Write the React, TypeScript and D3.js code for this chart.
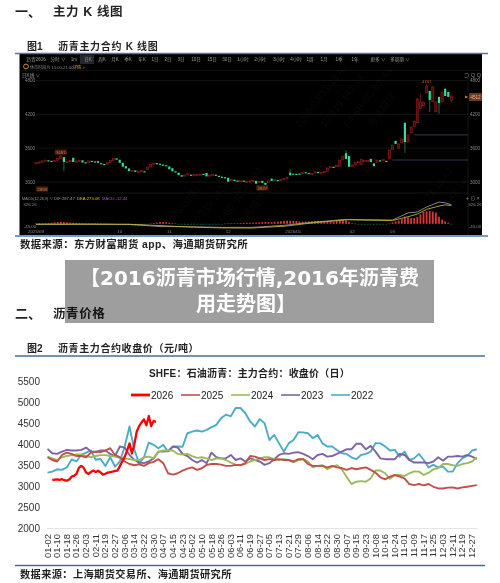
import * as d3 from 'd3';

const FONT = "'Liberation Sans','Noto Sans CJK SC',sans-serif";

// 图1 K 线
const candleOpen = [3320,3340,3350,3370,3385,3375,3365,3385,3420,3440,3350,3360,3430,3350,3370,3385,3350,3345,3375,3365,3370,3335,3320,3310,3345,3385,3420,3395,3340,3280,3240,3190,3205,3190,3190,3190,3220,3265,3320,3335,3325,3310,3300,3275,3245,3190,3165,3120,3110,3130,3130,3125,3130,3135,3145,3160,3115,3125,3130,3110,3095,3085,3075,3025,3040,3025,3020,3025,3005,3015,3020,3020,2990,3020,2985,2985,3060,3030,3035,3030,3045,3070,3165,3150,3145,3150,3150,3175,3160,3150,3165,3180,3150,3165,3185,3250,3270,3270,3280,3390,3510,3460,3270,3300,3340,3310,3370,3370,3410,3330,3350,3385,3385,3375,3410,3570,3730,3600,3700,4050,3710,3870,3980,4050,4300,4350,4580,4615,4420,4243,4510,4420,4651,4597,4450];
const candleClose = [3345,3355,3375,3390,3380,3370,3385,3420,3460,3355,3365,3380,3355,3375,3385,3345,3335,3375,3365,3360,3340,3320,3305,3345,3385,3415,3395,3340,3270,3240,3195,3205,3180,3195,3200,3180,3265,3310,3335,3325,3310,3300,3285,3225,3190,3170,3120,3095,3125,3145,3125,3130,3135,3140,3135,3100,3125,3135,3115,3100,3085,3070,3005,3040,3030,3020,3025,3010,3015,3020,3025,2970,3010,2985,2950,3020,3020,3040,3030,3040,3060,3085,3120,3140,3140,3140,3165,3160,3150,3155,3180,3170,3165,3185,3250,3270,3260,3300,3390,3460,3410,3270,3305,3350,3360,3405,3380,3385,3355,3280,3390,3380,3395,3365,3570,3655,3675,3675,3765,3710,3835,3975,4080,4470,4420,4420,4700,4455,4686,4420,4402,4597,4526,4509,4526];
const wickIdx = [8,9,82,100,119,123,124,126,127,128,130,131,132,134];
const wickHigh = [3481,3440,3230,3560,4050,4490,4560,4747,4615,4700,4510,4600,4665,4540];
const wickLow = [3420,3195,3120,3400,3515,4050,4300,4580,4243,4420,4207,4420,4526,4420];
const priceTicks = [4800,4200,3600,3000];
const extremeLabels = ['3481','2858','2827','4747'];
const extremeIdx = [8,2,73,126];
const extremePrice = [3530,2875,2895,4790];
const levelPrice = [3835,3390];
const levelStart = [122,115];
const dateTickIdx = [0,27,43,62,83,102,115];
const dateTickLabels = ['2025/09','10','11','12','2026/01','02','03'];

const macdHist = [5,8,10,12,14,18,25,30,35,30,25,20,18,16,14,12,10,10,8,8,6,6,4,4,4,2,-2,-4,-8,-12,-18,-25,-28,-25,-20,-12,-5,6,14,22,30,28,26,20,12,6,-8,-10,-12,-12,-10,-10,-8,-8,-6,-6,-5,-4,-4,-4,-2,4,6,8,10,10,14,16,18,18,20,22,25,30,35,32,30,34,38,45,50,55,52,50,48,40,38,40,42,45,50,52,50,48,46,42,38,60,70,68,60,30,10,4,-5,-8,-10,-10,-10,-12,-10,-8,-8,-6,5,25,40,55,80,120,110,95,95,115,160,200,210,215,205,190,120,70,40,20,-8];
const macdIdx = [0,15,30,40,50,60,70,80,90,100,115,120,123,126,130,132,134];
const difValues = [-8,-5,-10,-45,-50,-60,-60,-25,30,75,64,185,200,284,368,355,320];
const deaValues = [-8,-8,-8,-30,-55,-70,-70,-40,20,68,55,120,165,245,300,320,310];
const macdTicks = [326.26,-45];
const macdTickLabels = ['326.26','-45.00'];

// 图2 收盘价
const dayLabels = ['01-02','01-10','01-18','01-26','02-03','02-11','02-19','02-27','03-06','03-14','03-22','03-30','04-07','04-15','04-23','05-02','05-10','05-18','05-26','06-03','06-11','06-19','06-27','07-05','07-13','07-21','07-29','08-06','08-14','08-22','08-30','09-07','09-15','09-23','10-08','10-16','10-24','11-01','11-09','11-17','11-25','12-03','12-11','12-19','12-27'];
const closeTicks = [2000,2500,3000,3500,4000,4500,5000,5500];
const years = ['2026','2025','2024','2023','2022'];
const yearColors = ['#ff0000','#c0504d','#9bbb59','#8064a2','#4bacc6'];
const close2026 = [3150,3160,3165,3155,3170,3145,3135,3165,3230,3250,3295,3440,3485,3440,3330,3295,3340,3375,3340,3370,3330,3280,3300,3325,3340,3350,3365,3375,3480,3590,3700,3850,4020,3780,4000,4300,4430,4520,4590,4450,4670,4430,4550,4530];
const close2025 = [3690,3625,3590,3745,3800,3770,3720,3720,3690,3800,3825,3810,3850,3905,3745,3690,3590,3530,3500,3525,3485,3550,3580,3645,3550,3310,3280,3310,3375,3420,3450,3390,3430,3510,3530,3530,3515,3485,3485,3510,3500,3550,3720,3705,3665,3625,3645,3625,3645,3625,3625,3590,3645,3645,3530,3485,3485,3485,3450,3485,3450,3435,3390,3435,3405,3430,3450,3390,3325,3215,3165,3230,3270,3230,3190,3055,3030,3055,3025,3055,2990,2950,2950,2970,2975,2950,2975,2990,3010,3030];
const close2024 = [3705,3665,3625,3690,3720,3740,3755,3755,3720,3690,3720,3740,3740,3720,3705,3680,3660,3645,3625,3625,3690,3705,3665,3825,3850,3850,3850,3770,3755,3770,3720,3675,3690,3665,3625,3665,3660,3625,3565,3515,3510,3530,3590,3625,3660,3690,3690,3645,3625,3645,3625,3570,3625,3645,3590,3450,3485,3500,3405,3470,3500,3405,3230,3055,3110,3125,3110,3190,3375,3375,3310,3180,3270,3270,3245,3310,3355,3350,3270,3325,3405,3435,3530,3530,3500,3485,3530,3550,3590,3690];
const close2023 = [3890,3785,3770,3825,3865,3850,3850,3865,3920,3825,3820,3850,3850,3770,3720,3945,3920,3745,3625,3565,3550,3590,3665,3825,3825,3840,3945,3920,3770,3720,3625,3565,3625,3550,3800,3690,3665,3665,3745,3625,3665,3590,3665,3625,3590,3510,3550,3645,3745,3785,3770,3800,3810,3770,3720,3645,3745,3770,3705,3720,3770,3825,3880,3880,4010,4010,3880,3960,3825,3665,3645,3645,3645,3770,3745,3625,3565,3570,3565,3550,3590,3690,3610,3705,3705,3720,3705,3745,3705,3645];
const close2022 = [3325,3350,3405,3390,3450,3640,3590,3745,3800,3850,3630,3650,3485,3690,3470,3590,3945,4420,3865,3550,3690,4040,3985,3905,3985,3825,3945,3945,3940,4260,4300,4325,4300,4340,4405,4460,4620,4700,4660,4860,4860,4740,4540,4420,4595,4500,4100,4220,4020,3825,4020,4100,4285,4280,4260,4145,4220,4020,3945,3945,3865,3785,3770,3690,3645,3745,3770,3825,4025,4020,3945,3850,3865,3705,3825,3625,3665,3770,3625,3450,3510,3450,3470,3350,3350,3550,3665,3720,3850,3880];

const watermarkText = ['2026/03/31 18:42','10.219.142.14','F4-6B-8C-82-A4','海通期货'];
const watermarkX = [300,325,348,372,170,195,218,242,405,428];
const watermarkY = [128,128,128,128,228,228,228,228,232,232];

const toolbarLabels = ['沥青2606','分时 ∨','1m','日K','周K','月K','季K','年K','1日','2日','3日','10日','15日','30日','1小时','2小时','3小时','4小时','1周','1月','1季','1年','更多 ∨','多周期 ∨'];
const toolbarX = [36,58,74,88,102,115,128,142,155,168,181,196,212,227,243,260,279,296,310,324,339,355,378,400];

const indexX = d3.scaleLinear().domain([0, 134]).range([36, 451.4]);
const priceY = d3.scaleLinear().domain([3000, 4800]).range([182, 80.5]);
const macdY = d3.scaleLinear().domain([-45, 326.26]).range([226.5, 204.5]);
const sampleX = d3.scaleLinear().domain([0, 88]).range([47.5, 472]);
const closeY = d3.scaleLinear().domain([2000, 5500]).range([528.5, 381]);

const closeLine = d3.line<number>().x((_, i) => sampleX(i)).y(d => closeY(d));
const line2026 = d3.line<number>().x((_, i) => sampleX(1 + i * 0.5)).y(d => closeY(d));
const difLine = d3.line<number>().x((_, i) => indexX(macdIdx[i])).y(d => macdY(d));
const series = [close2022, close2023, close2024, close2025];
const seriesColor = [yearColors[4], yearColors[3], yearColors[2], yearColors[1]];

export default function App() {
  return (
    <svg width={500} height={583} style={{ position: 'absolute', left: 0, top: 0, background: '#fff' }} fontFamily={FONT}>
      <g fill="#222" fontWeight={700} style={{ filter: 'blur(0.3px)' }}>
        <text x={15} y={16} fontSize={13}>一、</text>
        <text x={53} y={16} fontSize={12.5} letterSpacing={0.6}>主力 K 线图</text>
        <text x={27} y={50} fontSize={10}>图1</text>
        <text x={58} y={50} fontSize={10} letterSpacing={0.7}>沥青主力合约 K 线图</text>
      </g>

      <g style={{ filter: 'blur(0.35px)' }}>
        <rect x={19.5} y={54} width={462.5} height={181} fill="#000" />
        <line x1={15} x2={488} y1={53.5} y2={53.5} stroke="#4a78b0" strokeWidth={1.5} />
        <line x1={15} x2={488} y1={236} y2={236} stroke="#4a78b0" strokeWidth={1.5} />
        <rect x={80} y={55} width={14} height={9} fill="#26262e" />
        {toolbarLabels.map((t, i) => (
          <text key={t} x={toolbarX[i]} y={61} fontSize={4.6} fill="#999" textAnchor="middle">{t}</text>
        ))}
        <circle cx={26} cy={66.5} r={2.4} fill="none" stroke="#c89020" />
        <text x={30} y={68.5} fontSize={4.1} fill="#888">休市时段为 15:00-21:00</text>
        <text x={73} y={68.5} fontSize={4.1} fill="#d8a020">详情 &gt;</text>
        <text x={22} y={76.5} fontSize={4.6} fill="#999">日K线 ∨</text>
        <text x={464} y={76.5} fontSize={5.5} fill="#888">⊃ Q Q</text>
        <line x1={20} x2={482} y1={70.5} y2={70.5} stroke="#181818" strokeWidth={0.6} />

        {priceTicks.map(p => (
          <g key={p}>
            <line x1={36} x2={468} y1={priceY(p)} y2={priceY(p)} stroke="#1a1a1a" strokeWidth={0.7} />
            <text x={30} y={priceY(p) + 1.8} fontSize={4.6} fill="#888" textAnchor="middle">{p}</text>
            <text x={475} y={priceY(p) + 1.8} fontSize={4.6} fill="#888" textAnchor="middle">{p}</text>
          </g>
        ))}
        <line x1={468} x2={468} y1={78} y2={235} stroke="#1a1a1a" strokeWidth={0.7} />
        {levelPrice.map((p, i) => (
          <line key={p} x1={indexX(levelStart[i])} x2={468} y1={priceY(p)} y2={priceY(p)} stroke="#3c3c5a" strokeWidth={0.9} />
        ))}

        {wickIdx.map((idx, i) => (
          <line key={idx} x1={indexX(idx)} x2={indexX(idx)} y1={priceY(wickHigh[i])} y2={priceY(wickLow[i])}
            stroke={candleClose[idx] >= candleOpen[idx] ? '#9a1c1c' : '#1f9a68'} strokeWidth={0.7} />
        ))}
        {candleOpen.map((o, i) => {
          const c = candleClose[i];
          const up = c >= o;
          return (
            <rect key={i} x={indexX(i) - 1.1} width={2.2}
              y={priceY(Math.max(o, c))} height={Math.max(1.2, Math.abs(priceY(o) - priceY(c)))}
              fill={up ? '#4a0c0c' : '#35dd98'} stroke={up ? '#a81e1e' : 'none'} strokeWidth={0.5} />
          );
        })}
        {extremeLabels.map((t, i) => (
          <g key={t}>
            <rect x={indexX(extremeIdx[i]) - 6} y={priceY(extremePrice[i]) - 2.5} width={12} height={5} fill={i === 3 ? '#000' : '#4a2410'} />
            <text x={indexX(extremeIdx[i])} y={priceY(extremePrice[i]) + 1.7} fontSize={4.4} fill="#c86a38" textAnchor="middle">{t}</text>
          </g>
        ))}
        <rect x={469} y={93} width={13} height={8} rx={1} fill="#6a3a24" />
        <text x={475.5} y={99} fontSize={4.6} fill="#e8b090" textAnchor="middle">4512</text>
        <path d="M465 95.5L468 97L465 98.5Z" fill="#e8702a" />

        <line x1={20} x2={468} y1={193} y2={193} stroke="#1c1c1c" strokeWidth={0.7} />
        <text x={22} y={200} fontSize={3.8} fill="#999">MACD(12,26,9) ∨</text>
        <text x={54} y={200} fontSize={4.2} fill="#999">DIF:287.47</text>
        <text x={77} y={200} fontSize={4.2} fill="#c8c020">DEA:273.08</text>
        <text x={102} y={200} fontSize={4.2} fill="#b048c0">MACD:-12.44</text>
        <text x={466} y={200} fontSize={5} fill="#999">+ ⊙ ×</text>
        {macdTicks.map((v, i) => (
          <g key={v}>
            <text x={30} y={macdY(v) + 1.7} fontSize={4.4} fill="#888" textAnchor="middle">{macdTickLabels[i]}</text>
            <text x={475} y={macdY(v) + 1.7} fontSize={4.4} fill="#888" textAnchor="middle">{macdTickLabels[i]}</text>
          </g>
        ))}
        {macdHist.map((v, i) => (
          <rect key={i} x={indexX(i) - 0.9} width={1.8}
            y={v >= 0 ? macdY(v) : macdY(0)} height={Math.max(0.6, Math.abs(macdY(v) - macdY(0)))}
            fill={v >= 0 ? '#d83636' : '#1f8a5c'} />
        ))}
        <path d={difLine(difValues) ?? ''} fill="none" stroke="#bdbdbd" strokeWidth={0.7} />
        <path d={difLine(deaValues) ?? ''} fill="none" stroke="#b8b030" strokeWidth={0.9} />
        {dateTickIdx.map((idx, i) => (
          <text key={idx} x={indexX(idx)} y={233} fontSize={4.4} fill="#888" textAnchor="middle">{dateTickLabels[i]}</text>
        ))}
        {watermarkX.map((x, i) => (
          <text key={i} x={x} y={watermarkY[i]} fontSize={10} fill="#999" opacity={0.05}
            transform={`rotate(-52 ${x} ${watermarkY[i]})`}>{watermarkText[i % 4]}</text>
        ))}
      </g>

      <g style={{ filter: 'blur(0.3px)' }} fill="#222" fontWeight={700}>
        <text x={20} y={248} fontSize={10.4} letterSpacing={0.4}>数据来源：东方财富期货 app、海通期货研究所</text>
        <text x={15} y={318} fontSize={13}>二、</text>
        <text x={53} y={318} fontSize={12.5} letterSpacing={0.6}>沥青价格</text>
        <text x={27} y={352} fontSize={10}>图2</text>
        <text x={58} y={352} fontSize={10} letterSpacing={0.6}>沥青主力合约收盘价（元/吨）</text>
        <text x={149} y={377} fontSize={10} letterSpacing={0.2}>SHFE：石油沥青：主力合约：收盘价（日）</text>
        <text x={20} y={578} fontSize={10.2} letterSpacing={0.4}>数据来源：上海期货交易所、海通期货研究所</text>
      </g>
      <line x1={15} x2={485} y1={356} y2={356} stroke="#3f6f9f" strokeWidth={1.4} />

      <g style={{ filter: 'blur(0.25px)' }}>
        {years.map((y, i) => (
          <g key={y} transform={`translate(${131 + i * 50},395)`}>
            <line x1={0} x2={19} stroke={yearColors[i]} strokeWidth={i === 0 ? 2.8 : 1.6} />
            <text x={20} y={3.8} fontSize={10} fill="#222">{y}</text>
          </g>
        ))}
        {closeTicks.map(t => (
          <text key={t} x={40} y={closeY(t) + 3.6} fontSize={10} fill="#333" textAnchor="end">{t}</text>
        ))}
        <line x1={47} x2={477} y1={closeY(2000)} y2={closeY(2000)} stroke="#e4e4e4" strokeWidth={1} />
        {dayLabels.map((d, i) => (
          <text key={d} transform={`translate(${sampleX(i * 2) + 3},534) rotate(-90)`} fontSize={9.4} fill="#333" textAnchor="end">{d}</text>
        ))}
        {series.map((s, i) => (
          <path key={i} d={closeLine(s) ?? ''} fill="none" stroke={seriesColor[i]} strokeWidth={1.9} strokeLinejoin="round" />
        ))}
        <path d={line2026(close2026) ?? ''} fill="none" stroke={yearColors[0]} strokeWidth={2.3} strokeLinejoin="round" />
      </g>

      <line x1={15} x2={485} y1={565.5} y2={565.5} stroke="#3f6f9f" strokeWidth={1.6} />

      <rect x={65} y={260} width={369} height={63} fill="#000" fillOpacity={0.38} />
      <text x={249.5} y={285} fontSize={20} fontWeight={700} fill="#fff" textAnchor="middle" fontFamily="'DejaVu Sans','Noto Sans CJK SC',sans-serif">【2016沥青市场行情,2016年沥青费</text>
      <text x={246} y={310.5} fontSize={20} fontWeight={700} fill="#fff" textAnchor="middle" fontFamily="'DejaVu Sans','Noto Sans CJK SC',sans-serif">用走势图】</text>
    </svg>
  );
}
